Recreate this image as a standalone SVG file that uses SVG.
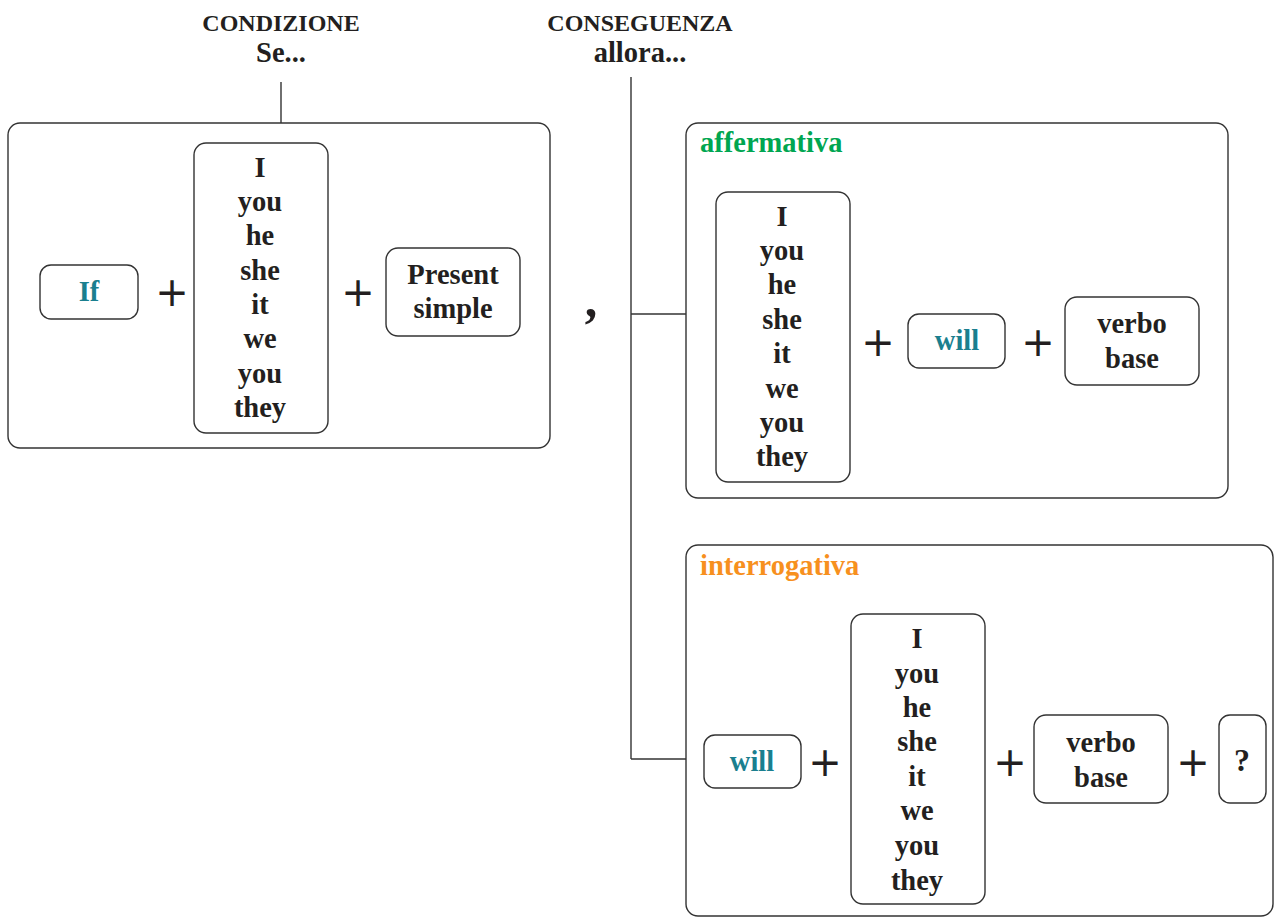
<svg xmlns="http://www.w3.org/2000/svg" width="1274" height="918" viewBox="0 0 1274 918">
<style>
.box{fill:#fff;stroke:#333;stroke-width:1.4}
.t{font-family:"Liberation Serif","DejaVu Serif",serif;font-weight:bold;font-size:28.5px;fill:#231f20;text-anchor:middle}
.h{font-size:24px}
.h2{font-size:28.5px}
.teal{fill:#1a7f8f}
.lab{text-anchor:start}
.green{fill:#00a651}
.orange{fill:#f7901e}
.plus{font-family:"DejaVu Sans",sans-serif;font-weight:normal;font-size:40px;fill:#231f20;text-anchor:middle}
.ln{stroke:#333;stroke-width:1.4;fill:none}
</style>
<g id="connectors">
<line class="ln" x1="281" y1="82" x2="281" y2="123"/>
<line class="ln" x1="631" y1="77" x2="631" y2="759"/>
<line class="ln" x1="631" y1="314" x2="686" y2="314"/>
<line class="ln" x1="631" y1="759" x2="686" y2="759"/>
</g>
<g id="header-condizione">
<text class="t h" x="281" y="31">CONDIZIONE</text>
<text class="t h2" x="281" y="62">Se...</text>
</g>
<g id="header-conseguenza">
<text class="t h" x="640" y="31">CONSEGUENZA</text>
<text class="t h2" x="640" y="62">allora...</text>
</g>
<g id="condizione">
<rect class="box" x="8" y="123" width="542" height="325" rx="12"/>
<rect class="box" x="40" y="265" width="98" height="54" rx="11"/>
<text class="t teal" x="89" y="301">If</text>
<text class="plus" x="172" y="306">+</text>
<rect class="box" x="194" y="143" width="134" height="290" rx="12"/>
<text class="t" x="260" y="177">I</text>
<text class="t" x="260" y="211">you</text>
<text class="t" x="260" y="245">he</text>
<text class="t" x="260" y="280">she</text>
<text class="t" x="260" y="314">it</text>
<text class="t" x="260" y="348">we</text>
<text class="t" x="260" y="383">you</text>
<text class="t" x="260" y="417">they</text>
<text class="plus" x="358" y="306">+</text>
<rect class="box" x="386" y="248" width="134" height="88" rx="12"/>
<text class="t" x="453" y="284">Present</text>
<text class="t" x="453" y="318">simple</text>
</g>
<g id="comma">
<text class="t" x="591" y="316" style="font-size:50px">,</text>
</g>
<g id="affermativa">
<rect class="box" x="686" y="123" width="542" height="375" rx="12"/>
<text class="t lab green" x="700" y="152">affermativa</text>
<rect class="box" x="716" y="192" width="134" height="290" rx="12"/>
<text class="t" x="782" y="226">I</text>
<text class="t" x="782" y="260">you</text>
<text class="t" x="782" y="294">he</text>
<text class="t" x="782" y="329">she</text>
<text class="t" x="782" y="363">it</text>
<text class="t" x="782" y="398">we</text>
<text class="t" x="782" y="432">you</text>
<text class="t" x="782" y="466">they</text>
<text class="plus" x="878" y="356">+</text>
<rect class="box" x="908" y="314" width="97" height="54" rx="11"/>
<text class="t teal" x="957" y="350">will</text>
<text class="plus" x="1038" y="356">+</text>
<rect class="box" x="1065" y="297" width="134" height="88" rx="12"/>
<text class="t" x="1132" y="333">verbo</text>
<text class="t" x="1132" y="368">base</text>
</g>
<g id="interrogativa">
<rect class="box" x="686" y="545" width="587" height="371" rx="12"/>
<text class="t lab orange" x="700" y="575">interrogativa</text>
<rect class="box" x="704" y="735" width="97" height="53" rx="11"/>
<text class="t teal" x="752" y="771">will</text>
<text class="plus" x="825" y="776">+</text>
<rect class="box" x="851" y="614" width="134" height="290" rx="12"/>
<text class="t" x="917" y="648">I</text>
<text class="t" x="917" y="683">you</text>
<text class="t" x="917" y="717">he</text>
<text class="t" x="917" y="751">she</text>
<text class="t" x="917" y="786">it</text>
<text class="t" x="917" y="820">we</text>
<text class="t" x="917" y="855">you</text>
<text class="t" x="917" y="890">they</text>
<text class="plus" x="1010" y="776">+</text>
<rect class="box" x="1034" y="715" width="134" height="88" rx="12"/>
<text class="t" x="1101" y="752">verbo</text>
<text class="t" x="1101" y="787">base</text>
<text class="plus" x="1193" y="776">+</text>
<rect class="box" x="1219" y="715" width="47" height="88" rx="11"/>
<text class="t" x="1242" y="771" style="font-size:32px">?</text>
</g>
</svg>
